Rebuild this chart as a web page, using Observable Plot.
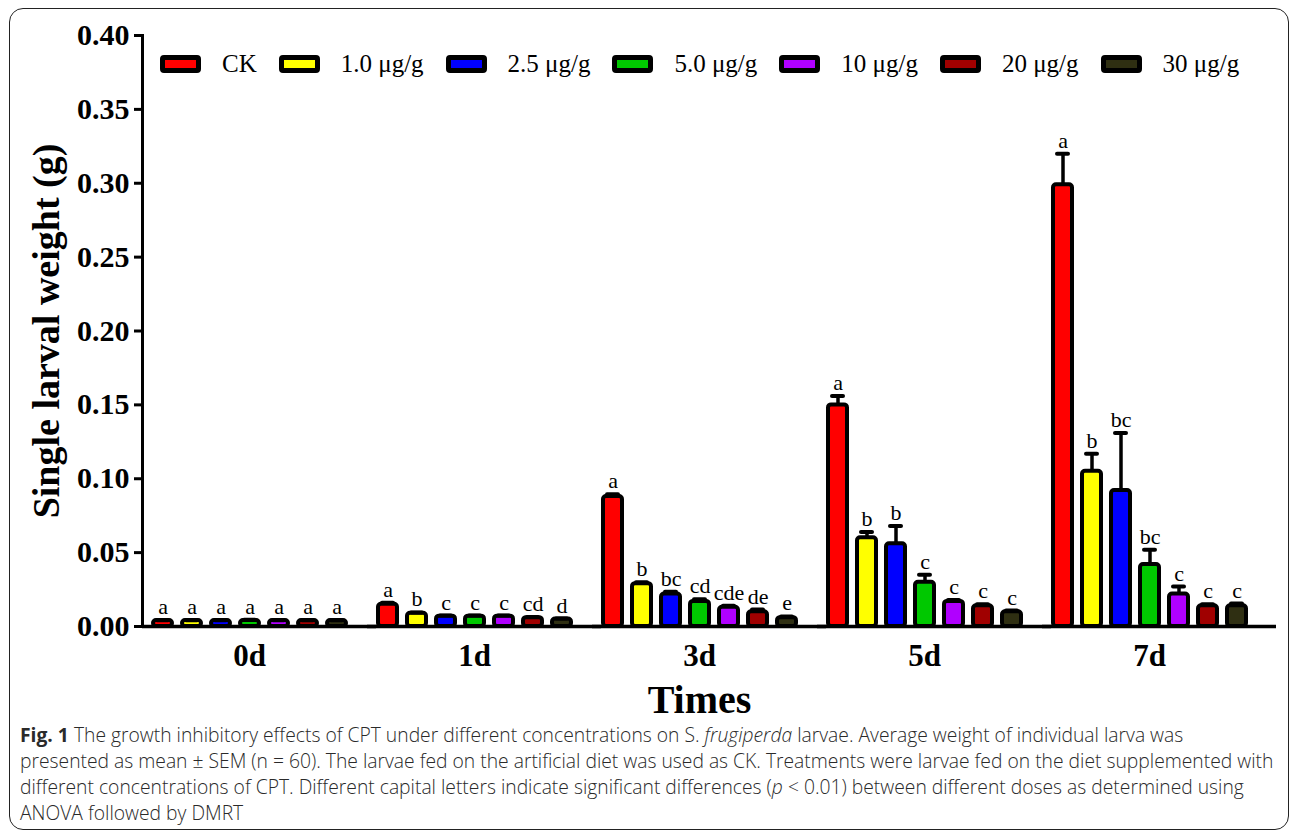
<!DOCTYPE html>
<html><head><meta charset="utf-8">
<script src="https://cdn.jsdelivr.net/npm/d3@7"></script>
<script src="https://cdn.jsdelivr.net/npm/@observablehq/plot@0.6"></script>
<style>
html,body{margin:0;padding:0;background:#fff;}
#wrap{position:relative;width:1290px;height:833px;overflow:hidden;background:#fff;}
#box{position:absolute;left:9px;top:8px;width:1280px;height:822px;border:1.5px solid #222;border-radius:14px;box-sizing:border-box;}
#chart{position:absolute;left:0;top:0;}
#legend{position:absolute;left:160px;top:50px;display:flex;align-items:center;font-family:"Liberation Serif",serif;font-size:25px;color:#000;}
.item{display:flex;align-items:center;margin-right:22px;}
.sw{width:31px;height:8px;border:5px solid #000;border-radius:4px;margin-right:21px;}
#caption{position:absolute;left:20px;top:722px;font-family:"Open Sans",sans-serif;font-weight:300;font-size:19.3px;line-height:26px;color:#2a2a2a;white-space:nowrap;}
#caption b{font-weight:700;}
g[aria-label="y-axis label"] text{font-size:38px;}
g[aria-label="fx-axis label"] text{font-size:40px;}
</style></head>
<body>
<div id="wrap">
  <div id="box"></div>
  <div id="chart"></div>
  <div id="legend"></div>
  <div id="caption"><b>Fig. 1</b> The growth inhibitory effects of CPT under different concentrations on S. <i>frugiperda</i> larvae. Average weight of individual larva was<br>presented as mean ± SEM (n = 60). The larvae fed on the artificial diet was used as CK. Treatments were larvae fed on the diet supplemented with<br>different concentrations of CPT. Different capital letters indicate significant differences (<i>p</i> &lt; 0.01) between different doses as determined using<br>ANOVA followed by DMRT</div>
</div>
<script>
const times = ["0d", "1d", "3d", "5d", "7d"];
const treatments = ["CK", "1.0 μg/g", "2.5 μg/g", "5.0 μg/g", "10 μg/g", "20 μg/g", "30 μg/g"];
const fills = ["#ff0000", "#ffff00", "#0000ff", "#00c800", "#b000ff", "#a00000", "#2f2f12"];
const yTicks = [0, 0.05, 0.10, 0.15, 0.20, 0.25, 0.30, 0.35, 0.40];

const mean0d = [0.004, 0.004, 0.004, 0.004, 0.004, 0.004, 0.004];
const sem0d  = [0.0003, 0.0003, 0.0003, 0.0005, 0.0003, 0.0003, 0.0003];
const letters0d = ["a", "a", "a", "a", "a", "a", "a"];

const mean1d = [0.015, 0.009, 0.007, 0.007, 0.007, 0.006, 0.005];
const sem1d  = [0.001, 0.0005, 0.0004, 0.0004, 0.0004, 0.0004, 0.0004];
const letters1d = ["a", "b", "c", "c", "c", "cd", "d"];

const mean3d = [0.088, 0.029, 0.022, 0.017, 0.013, 0.010, 0.006];
const sem3d  = [0.0015, 0.001, 0.0015, 0.0015, 0.001, 0.0015, 0.0008];
const letters3d = ["a", "b", "bc", "cd", "cde", "de", "e"];

const mean5d = [0.150, 0.060, 0.056, 0.030, 0.017, 0.014, 0.010];
const sem5d  = [0.006, 0.004, 0.012, 0.005, 0.001, 0.001, 0.0008];
const letters5d = ["a", "b", "b", "c", "c", "c", "c"];

const mean7d = [0.299, 0.105, 0.092, 0.042, 0.022, 0.014, 0.014];
const sem7d  = [0.021, 0.012, 0.039, 0.010, 0.005, 0.001, 0.0015];
const letters7d = ["a", "b", "bc", "bc", "c", "c", "c"];

const means = [mean0d, mean1d, mean3d, mean5d, mean7d];
const sems = [sem0d, sem1d, sem3d, sem5d, sem7d];
const letters = [letters0d, letters1d, letters3d, letters5d, letters7d];

const rows = times.flatMap((t, i) => treatments.map((c, j) => ({
  time: t, conc: c, mean: means[i][j], sem: sems[i][j], letter: letters[i][j]
})));

const serif = '"Liberation Serif", "Times New Roman", serif';

const chart = Plot.plot({
  width: 1290,
  height: 720,
  marginLeft: 141,
  marginRight: 15,
  marginTop: 35,
  marginBottom: 94,
  style: {fontFamily: serif, background: "transparent", color: "#000", overflow: "visible"},
  fx: {domain: times, range: [141, 1256], paddingInner: 0.05, paddingOuter: 0},
  x: {domain: treatments, paddingInner: 0.35, paddingOuter: 0.34, axis: null},
  y: {domain: [0, 0.4]},
  color: {domain: treatments, range: fills},
  marks: [
    Plot.barY(rows, {fx: "time", x: "conc", y: "mean", fill: "conc", stroke: "#000", strokeWidth: 4, rx: 3}),
    Plot.ruleX(rows, {fx: "time", x: "conc", y1: "mean", y2: d => d.mean + d.sem, stroke: "#000", strokeWidth: 3.5}),
    Plot.tickY(rows, {fx: "time", x: "conc", y: d => d.mean + d.sem, stroke: "#000", strokeWidth: 4, insetLeft: 4, insetRight: 4, strokeLinecap: "round"}),
    Plot.text(rows, {fx: "time", x: "conc", y: d => d.mean + d.sem, text: "letter", dy: -6, lineAnchor: "bottom", fontSize: 22, fontFamily: serif}),
    Plot.ruleY([0], {stroke: "#000", strokeWidth: 3.5, insetRight: -20}),
    Plot.frame({anchor: "left", facetAnchor: "left", stroke: "#000", strokeWidth: 3}),
    Plot.axisY(yTicks, {anchor: "left", tickFormat: d => d.toFixed(2), tickSize: 8, tickPadding: 5, strokeWidth: 3, fontSize: 30, fontWeight: "bold", label: "Single larval weight (g)", labelAnchor: "center", labelArrow: "none", labelOffset: 110}),
    Plot.axisFx({anchor: "bottom", tickSize: 0, tickPadding: 17, fontSize: 31, fontWeight: "bold", label: "Times", labelAnchor: "center", labelArrow: "none", labelOffset: 86})
  ]
});
document.getElementById("chart").appendChild(chart);

const legend = d3.select("#legend");
treatments.forEach((c, i) => {
  const it = legend.append("div").attr("class", "item");
  it.append("div").attr("class", "sw").style("background", fills[i]);
  it.append("span").text(c);
});
</script>
</body></html>
